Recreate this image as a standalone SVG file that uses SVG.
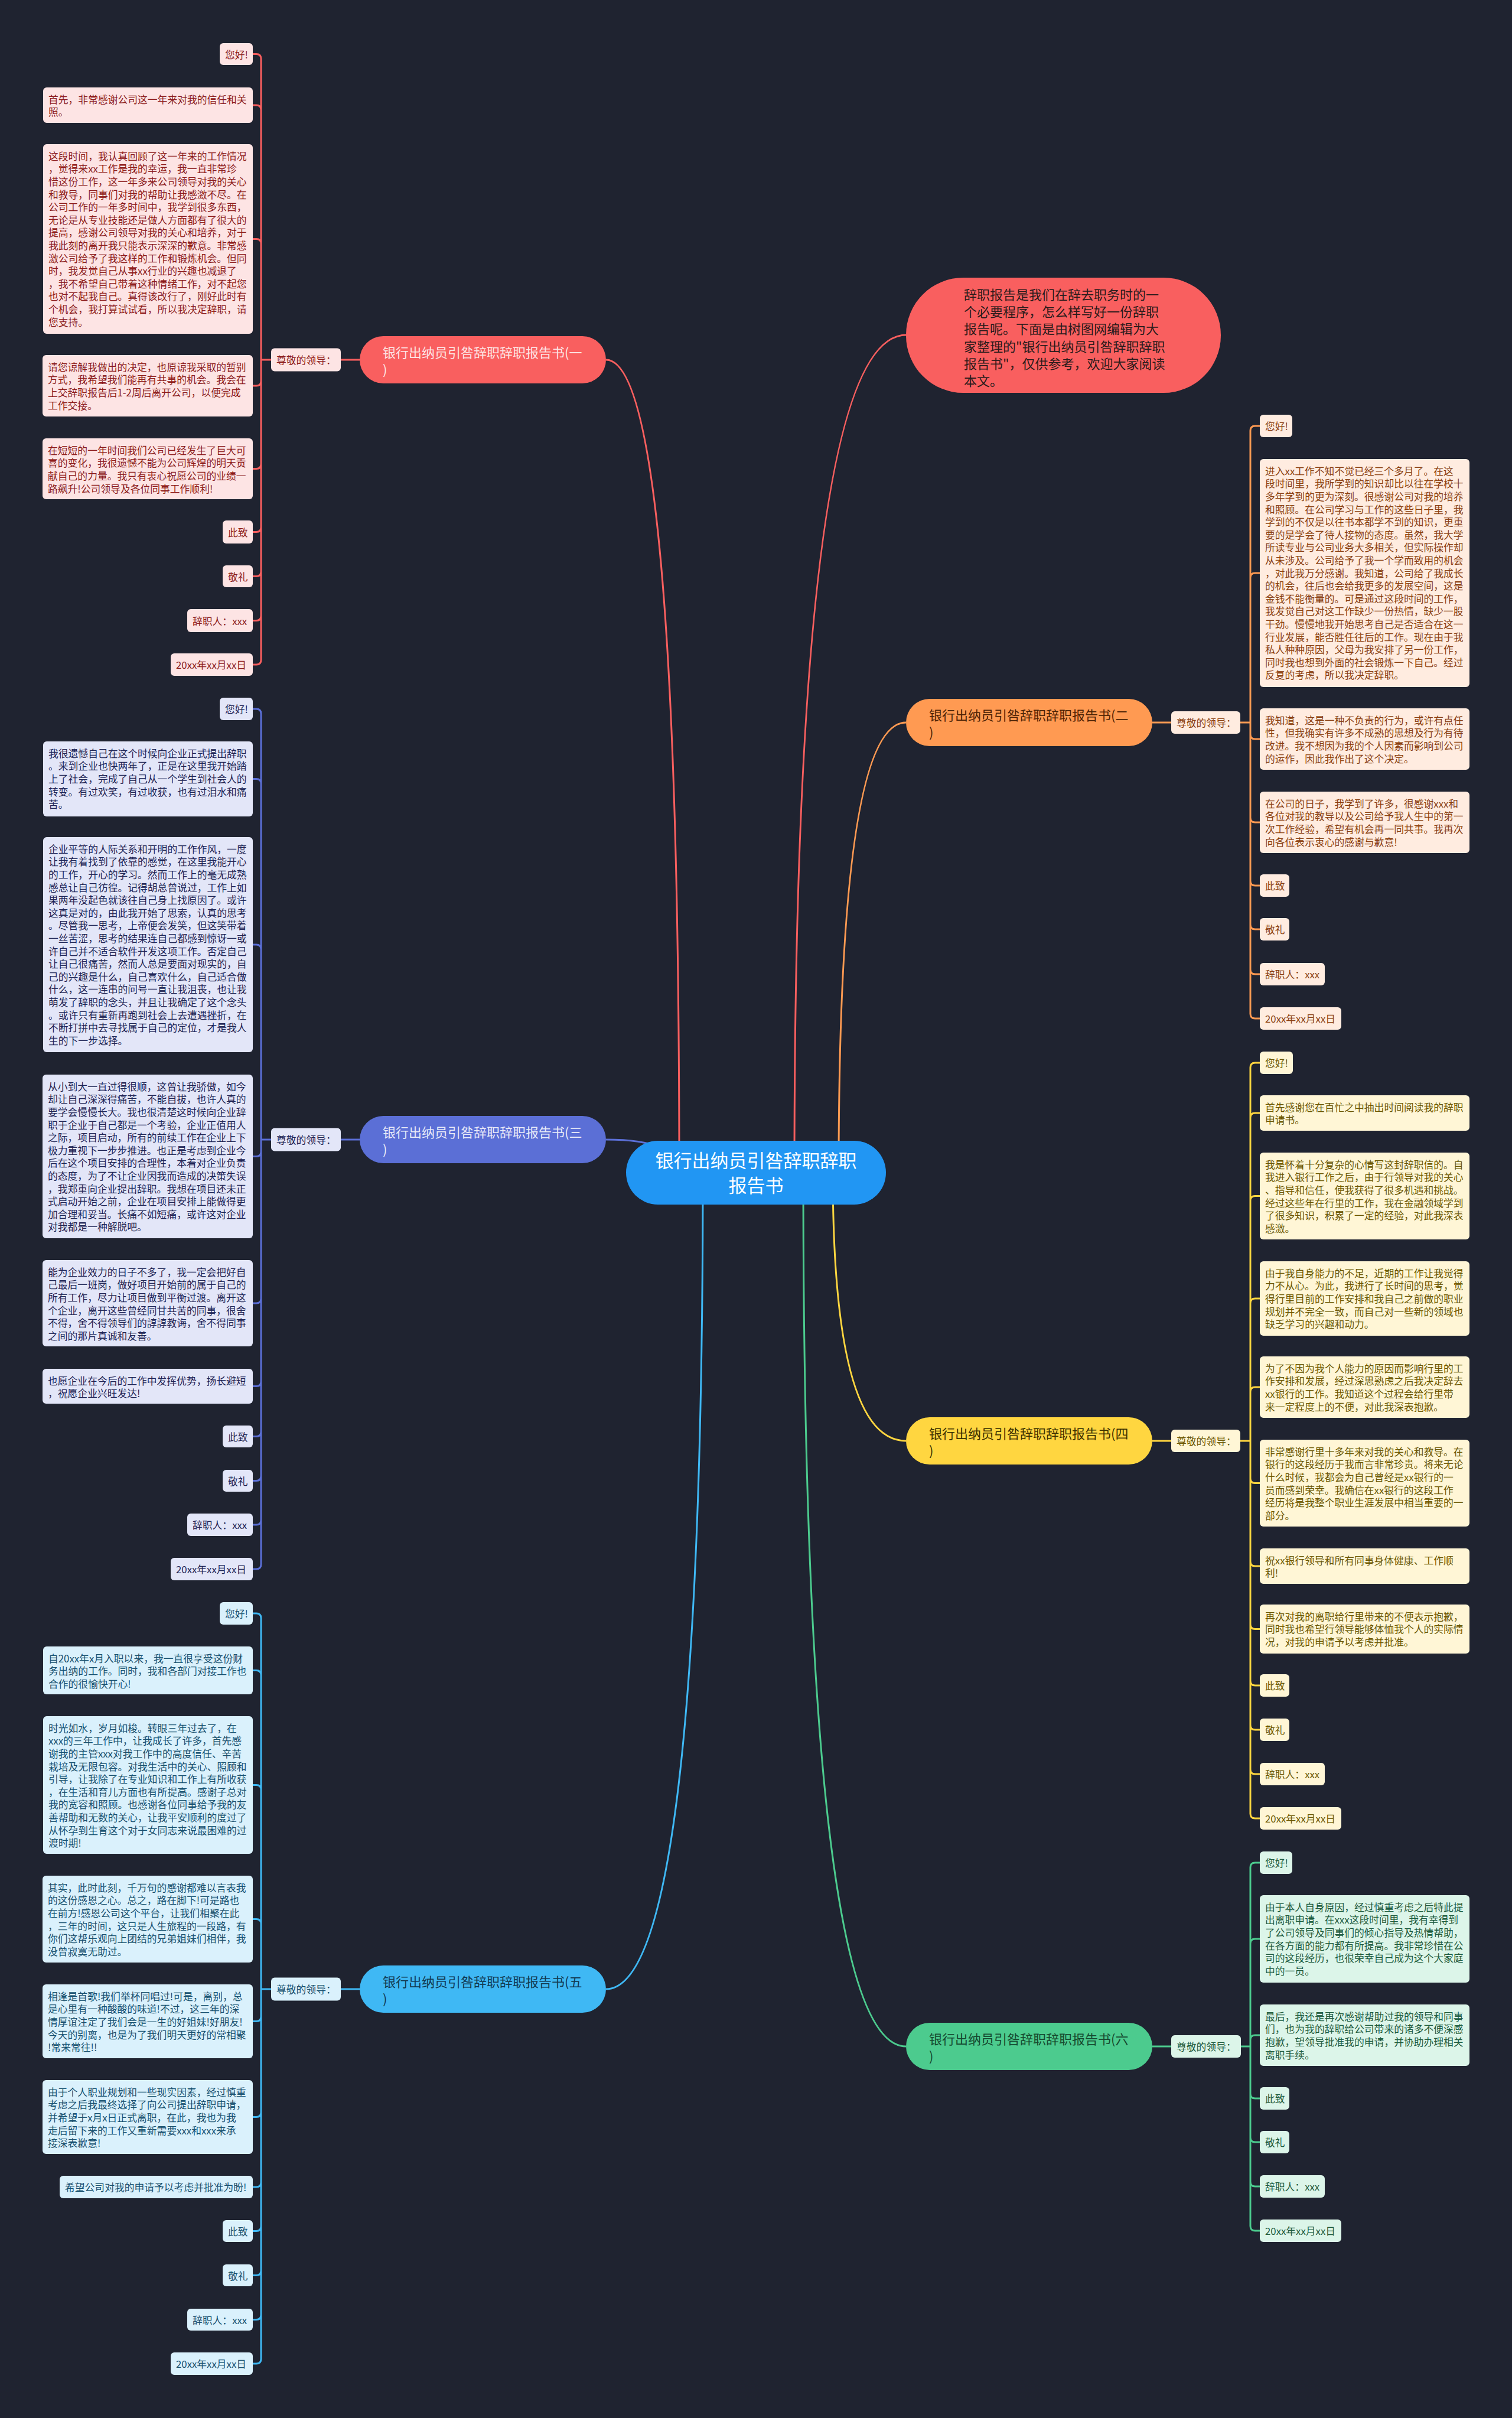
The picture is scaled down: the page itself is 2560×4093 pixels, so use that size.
<svg xmlns="http://www.w3.org/2000/svg" width="2560" height="4093" viewBox="0 0 2560 4093">
<style>
text{font-family:"Noto Sans CJK SC","Noto Sans",sans-serif;dominant-baseline:central}
.lt{font-size:16.8px}
.nt{font-size:22px}
.rt{font-size:31px;fill:#ffffff;text-anchor:middle}
.lr{rx:6px;ry:6px}
.C1{fill:none;stroke:#f95f5f;stroke-width:3}
.C2{fill:none;stroke:#ff9a52;stroke-width:3}
.C3{fill:none;stroke:#5b6fd6;stroke-width:3}
.C4{fill:none;stroke:#ffd640;stroke-width:3}
.C5{fill:none;stroke:#3fb8f4;stroke-width:3}
.C6{fill:none;stroke:#4ccb8e;stroke-width:3}
.L1 rect{fill:#fde4e4}.L1 text{fill:#8c1b1b}
.L2 rect{fill:#ffece0}.L2 text{fill:#8a3f10}
.L3 rect{fill:#e3e6f8}.L3 text{fill:#1e2454}
.L4 rect{fill:#fff6d6}.L4 text{fill:#6b5600}
.L5 rect{fill:#daf1fc}.L5 text{fill:#17506f}
.L6 rect{fill:#dcf5e9}.L6 text{fill:#1c5a3c}
.N1 rect{fill:#f95f5f}.N1 text{fill:#fde4e4}
.N2 rect{fill:#ff9a52}.N2 text{fill:#4d2305}
.N3 rect{fill:#5b6fd6}.N3 text{fill:#e8eaf8}
.N4 rect{fill:#ffd640}.N4 text{fill:#3d3200}
.N5 rect{fill:#3fb8f4}.N5 text{fill:#123a52}
.N6 rect{fill:#4ccb8e}.N6 text{fill:#154a30}
</style>
<rect x="0" y="0" width="2560" height="4093" fill="#1f2330"/>

<g id="connectors">
<path class="C1" d="M1345 1983Q1345 567 1534 567"/>
<path class="C1" d="M1150 1983Q1150 609 1026 609"/>
<path class="C2" d="M1420 1983Q1420 1223 1534 1223"/>
<path class="C3" d="M1150 1983Q1150 1929 1026 1929"/>
<path class="C4" d="M1410 1983Q1410 2439 1534 2439"/>
<path class="C5" d="M1190 1983Q1190 3367 1026 3367"/>
<path class="C6" d="M1360 1983Q1360 3464 1534 3464"/>

<path class="C1" d="M609 609H577M459 609H442M442 609V99.5Q442 91.5 434 91.5H428M442 609V186Q442 178 434 178H428M442 609V412.5Q442 404.5 434 404.5H428M442 609V645Q442 653 434 653H428M442 609V785.5Q442 793.5 434 793.5H428M442 609V892.5Q442 900.5 434 900.5H428M442 609V967.5Q442 975.5 434 975.5H428M442 609V1042.5Q442 1050.5 434 1050.5H428M442 609V1117Q442 1125 434 1125H428"/>
<path class="C3" d="M609 1929H577M459 1929H442M442 1929V1208Q442 1200 434 1200H428M442 1929V1326.5Q442 1318.5 434 1318.5H428M442 1929V1607Q442 1599 434 1599H428M442 1929V1949.5Q442 1957.5 434 1957.5H428M442 1929V2198Q442 2206 434 2206H428M442 1929V2338.5Q442 2346.5 434 2346.5H428M442 1929V2423.5Q442 2431.5 434 2431.5H428M442 1929V2498.5Q442 2506.5 434 2506.5H428M442 1929V2573Q442 2581 434 2581H428M442 1929V2648Q442 2656 434 2656H428"/>
<path class="C5" d="M609 3367H577M459 3367H442M442 3367V2739Q442 2731 434 2731H428M442 3367V2835.5Q442 2827.5 434 2827.5H428M442 3367V3029.5Q442 3021.5 434 3021.5H428M442 3367V3256.5Q442 3248.5 434 3248.5H428M442 3367V3413.5Q442 3421.5 434 3421.5H428M442 3367V3575.5Q442 3583.5 434 3583.5H428M442 3367V3694Q442 3702 434 3702H428M442 3367V3768.5Q442 3776.5 434 3776.5H428M442 3367V3843.5Q442 3851.5 434 3851.5H428M442 3367V3918.5Q442 3926.5 434 3926.5H428M442 3367V3993Q442 4001 434 4001H428"/>
<path class="C2" d="M1951 1223H1983M2100 1223H2117M2117 1223V729Q2117 721 2125 721H2133M2117 1223V978Q2117 970 2125 970H2133M2117 1223V1243Q2117 1251 2125 1251H2133M2117 1223V1384Q2117 1392 2125 1392H2133M2117 1223V1491Q2117 1499 2125 1499H2133M2117 1223V1565Q2117 1573 2125 1573H2133M2117 1223V1641Q2117 1649 2125 1649H2133M2117 1223V1716Q2117 1724 2125 1724H2133"/>
<path class="C4" d="M1951 2439H1983M2100 2439H2117M2117 2439V1807Q2117 1799 2125 1799H2133M2117 2439V1892Q2117 1884 2125 1884H2133M2117 2439V2032.5Q2117 2024.5 2125 2024.5H2133M2117 2439V2206Q2117 2198 2125 2198H2133M2117 2439V2356Q2117 2348 2125 2348H2133M2117 2439V2502.5Q2117 2510.5 2125 2510.5H2133M2117 2439V2643Q2117 2651 2125 2651H2133M2117 2439V2749.5Q2117 2757.5 2125 2757.5H2133M2117 2439V2845Q2117 2853 2125 2853H2133M2117 2439V2920Q2117 2928 2125 2928H2133M2117 2439V2995Q2117 3003 2125 3003H2133M2117 2439V3070Q2117 3078 2125 3078H2133"/>
<path class="C6" d="M1951 3464H1983M2100 3464H2117M2117 3464V3161Q2117 3153 2125 3153H2133M2117 3464V3290Q2117 3282 2125 3282H2133M2117 3464V3453Q2117 3445 2125 3445H2133M2117 3464V3544Q2117 3552 2125 3552H2133M2117 3464V3618Q2117 3626 2125 3626H2133M2117 3464V3693Q2117 3701 2125 3701H2133M2117 3464V3768Q2117 3776 2125 3776H2133"/>
</g>

<g id="root">
<rect x="1060" y="1931" width="440" height="108" rx="54" fill="#2196f3"/>
<text class="rt" x="1280" y="1962"><tspan x="1280">银行出纳员引咎辞职辞职</tspan><tspan x="1280" dy="42">报告书</tspan></text>
</g>

<g id="intro">
<rect x="1534" y="470" width="533" height="195" rx="97" fill="#f95f5f"/>
<text class="nt" fill="#2b1b1b" x="1632" y="497"><tspan x="1632">辞职报告是我们在辞去职务时的一</tspan><tspan x="1632" dy="29.2">个必要程序，怎么样写好一份辞职</tspan><tspan x="1632" dy="29.2">报告呢。下面是由树图网编辑为大</tspan><tspan x="1632" dy="29.2">家整理的"银行出纳员引咎辞职辞职</tspan><tspan x="1632" dy="29.2">报告书"，仅供参考，欢迎大家阅读</tspan><tspan x="1632" dy="29.2">本文。</tspan></text>
</g>

<!-- Branch 1 -->
<g id="b1" class="N1"><rect x="609" y="569" width="417" height="80" rx="40"/><text class="nt" x="648" y="595"><tspan x="648">银行出纳员引咎辞职辞职报告书(一</tspan><tspan x="648" dy="29">)</tspan></text></g>
<g id="b1-label" class="L1"><rect class="lr" x="459" y="589.5" width="118" height="39"/><text class="lt" x="468" y="609">尊敬的领导：</text></g>
<g id="b1-1" class="L1"><rect class="lr" x="372" y="73" width="56" height="37"/><text class="lt" x="381" y="91.5">您好!</text></g>
<g id="b1-2" class="L1"><rect class="lr" x="73" y="148" width="355" height="60"/><text class="lt" x="82" y="167.8"><tspan x="82">首先，非常感谢公司这一年来对我的信任和关</tspan><tspan x="82" dy="21.6">照。</tspan></text></g>
<g id="b1-3" class="L1"><rect class="lr" x="73" y="244" width="355" height="321"/><text class="lt" x="82" y="263.8"><tspan x="82">这段时间，我认真回顾了这一年来的工作情况</tspan><tspan x="82" dy="21.6">，觉得来xx工作是我的幸运，我一直非常珍</tspan><tspan x="82" dy="21.6">惜这份工作，这一年多来公司领导对我的关心</tspan><tspan x="82" dy="21.6">和教导，同事们对我的帮助让我感激不尽。在</tspan><tspan x="82" dy="21.6">公司工作的一年多时间中，我学到很多东西，</tspan><tspan x="82" dy="21.6">无论是从专业技能还是做人方面都有了很大的</tspan><tspan x="82" dy="21.6">提高，感谢公司领导对我的关心和培养，对于</tspan><tspan x="82" dy="21.6">我此刻的离开我只能表示深深的歉意。非常感</tspan><tspan x="82" dy="21.6">激公司给予了我这样的工作和锻炼机会。但同</tspan><tspan x="82" dy="21.6">时，我发觉自己从事xx行业的兴趣也减退了</tspan><tspan x="82" dy="21.6">，我不希望自己带着这种情绪工作，对不起您</tspan><tspan x="82" dy="21.6">也对不起我自己。真得该改行了，刚好此时有</tspan><tspan x="82" dy="21.6">个机会，我打算试试看，所以我决定辞职，请</tspan><tspan x="82" dy="21.6">您支持。</tspan></text></g>
<g id="b1-4" class="L1"><rect class="lr" x="72" y="601" width="356" height="104"/><text class="lt" x="81" y="620.8"><tspan x="81">请您谅解我做出的决定，也原谅我采取的暂别</tspan><tspan x="81" dy="21.6">方式，我希望我们能再有共事的机会。我会在</tspan><tspan x="81" dy="21.6">上交辞职报告后1-2周后离开公司，以便完成</tspan><tspan x="81" dy="21.6">工作交接。</tspan></text></g>
<g id="b1-5" class="L1"><rect class="lr" x="72" y="742" width="356" height="103"/><text class="lt" x="81" y="761.8"><tspan x="81">在短短的一年时间我们公司已经发生了巨大可</tspan><tspan x="81" dy="21.6">喜的变化，我很遗憾不能为公司辉煌的明天贡</tspan><tspan x="81" dy="21.6">献自己的力量。我只有衷心祝愿公司的业绩一</tspan><tspan x="81" dy="21.6">路飙升!公司领导及各位同事工作顺利!</tspan></text></g>
<g id="b1-6" class="L1"><rect class="lr" x="377" y="881" width="51" height="39"/><text class="lt" x="386" y="900.5">此致</text></g>
<g id="b1-7" class="L1"><rect class="lr" x="377" y="957" width="51" height="37"/><text class="lt" x="386" y="975.5">敬礼</text></g>
<g id="b1-8" class="L1"><rect class="lr" x="317" y="1031" width="111" height="39"/><text class="lt" x="326" y="1050.5">辞职人：xxx</text></g>
<g id="b1-9" class="L1"><rect class="lr" x="289" y="1106" width="139" height="38"/><text class="lt" x="298" y="1125">20xx年xx月xx日</text></g>

<!-- Branch 3 -->
<g id="b3" class="N3"><rect x="609" y="1889" width="417" height="80" rx="40"/><text class="nt" x="648" y="1915"><tspan x="648">银行出纳员引咎辞职辞职报告书(三</tspan><tspan x="648" dy="29">)</tspan></text></g>
<g id="b3-label" class="L3"><rect class="lr" x="459" y="1909.5" width="118" height="39"/><text class="lt" x="468" y="1929">尊敬的领导：</text></g>
<g id="b3-1" class="L3"><rect class="lr" x="372" y="1181" width="56" height="38"/><text class="lt" x="381" y="1200">您好!</text></g>
<g id="b3-2" class="L3"><rect class="lr" x="73" y="1255" width="355" height="127"/><text class="lt" x="82" y="1274.8"><tspan x="82">我很遗憾自己在这个时候向企业正式提出辞职</tspan><tspan x="82" dy="21.6">。来到企业也快两年了，正是在这里我开始踏</tspan><tspan x="82" dy="21.6">上了社会，完成了自己从一个学生到社会人的</tspan><tspan x="82" dy="21.6">转变。有过欢笑，有过收获，也有过泪水和痛</tspan><tspan x="82" dy="21.6">苦。</tspan></text></g>
<g id="b3-3" class="L3"><rect class="lr" x="73" y="1417" width="355" height="364"/><text class="lt" x="82" y="1436.8"><tspan x="82">企业平等的人际关系和开明的工作作风，一度</tspan><tspan x="82" dy="21.6">让我有着找到了依靠的感觉，在这里我能开心</tspan><tspan x="82" dy="21.6">的工作，开心的学习。然而工作上的毫无成熟</tspan><tspan x="82" dy="21.6">感总让自己彷徨。记得胡总曾说过，工作上如</tspan><tspan x="82" dy="21.6">果两年没起色就该往自己身上找原因了。或许</tspan><tspan x="82" dy="21.6">这真是对的，由此我开始了思索，认真的思考</tspan><tspan x="82" dy="21.6">。尽管我一思考，上帝便会发笑，但这笑带着</tspan><tspan x="82" dy="21.6">一丝苦涩，思考的结果连自己都感到惊讶一或</tspan><tspan x="82" dy="21.6">许自己并不适合软件开发这项工作。否定自己</tspan><tspan x="82" dy="21.6">让自己很痛苦，然而人总是要面对现实的，自</tspan><tspan x="82" dy="21.6">己的兴趣是什么，自己喜欢什么，自己适合做</tspan><tspan x="82" dy="21.6">什么，这一连串的问号一直让我沮丧，也让我</tspan><tspan x="82" dy="21.6">萌发了辞职的念头，并且让我确定了这个念头</tspan><tspan x="82" dy="21.6">。或许只有重新再跑到社会上去遭遇挫折，在</tspan><tspan x="82" dy="21.6">不断打拼中去寻找属于自己的定位，才是我人</tspan><tspan x="82" dy="21.6">生的下一步选择。</tspan></text></g>
<g id="b3-4" class="L3"><rect class="lr" x="72" y="1819" width="356" height="277"/><text class="lt" x="81" y="1838.8"><tspan x="81">从小到大一直过得很顺，这曾让我骄傲，如今</tspan><tspan x="81" dy="21.6">却让自己深深得痛苦，不能自拔，也许人真的</tspan><tspan x="81" dy="21.6">要学会慢慢长大。我也很清楚这时候向企业辞</tspan><tspan x="81" dy="21.6">职于企业于自己都是一个考验，企业正值用人</tspan><tspan x="81" dy="21.6">之际，项目启动，所有的前续工作在企业上下</tspan><tspan x="81" dy="21.6">极力重视下一步步推进。也正是考虑到企业今</tspan><tspan x="81" dy="21.6">后在这个项目安排的合理性，本着对企业负责</tspan><tspan x="81" dy="21.6">的态度，为了不让企业因我而造成的决策失误</tspan><tspan x="81" dy="21.6">，我郑重向企业提出辞职。我想在项目还未正</tspan><tspan x="81" dy="21.6">式启动开始之前，企业在项目安排上能做得更</tspan><tspan x="81" dy="21.6">加合理和妥当。长痛不如短痛，或许这对企业</tspan><tspan x="81" dy="21.6">对我都是一种解脱吧。</tspan></text></g>
<g id="b3-5" class="L3"><rect class="lr" x="72" y="2133" width="356" height="146"/><text class="lt" x="81" y="2152.8"><tspan x="81">能为企业效力的日子不多了，我一定会把好自</tspan><tspan x="81" dy="21.6">己最后一班岗，做好项目开始前的属于自己的</tspan><tspan x="81" dy="21.6">所有工作，尽力让项目做到平衡过渡。离开这</tspan><tspan x="81" dy="21.6">个企业，离开这些曾经同甘共苦的同事，很舍</tspan><tspan x="81" dy="21.6">不得，舍不得领导们的諄諄教诲，舍不得同事</tspan><tspan x="81" dy="21.6">之间的那片真诚和友善。</tspan></text></g>
<g id="b3-6" class="L3"><rect class="lr" x="72" y="2317" width="356" height="59"/><text class="lt" x="81" y="2336.8"><tspan x="81">也愿企业在今后的工作中发挥优势，扬长避短</tspan><tspan x="81" dy="21.6">，祝愿企业兴旺发达!</tspan></text></g>
<g id="b3-7" class="L3"><rect class="lr" x="377" y="2413" width="51" height="37"/><text class="lt" x="386" y="2431.5">此致</text></g>
<g id="b3-8" class="L3"><rect class="lr" x="377" y="2488" width="51" height="37"/><text class="lt" x="386" y="2506.5">敬礼</text></g>
<g id="b3-9" class="L3"><rect class="lr" x="317" y="2562" width="111" height="38"/><text class="lt" x="326" y="2581">辞职人：xxx</text></g>
<g id="b3-10" class="L3"><rect class="lr" x="289" y="2637" width="139" height="38"/><text class="lt" x="298" y="2656">20xx年xx月xx日</text></g>

<!-- Branch 5 -->
<g id="b5" class="N5"><rect x="609" y="3327" width="417" height="80" rx="40"/><text class="nt" x="648" y="3353"><tspan x="648">银行出纳员引咎辞职辞职报告书(五</tspan><tspan x="648" dy="29">)</tspan></text></g>
<g id="b5-label" class="L5"><rect class="lr" x="459" y="3347.5" width="118" height="39"/><text class="lt" x="468" y="3367">尊敬的领导：</text></g>
<g id="b5-1" class="L5"><rect class="lr" x="372" y="2712" width="56" height="38"/><text class="lt" x="381" y="2731">您好!</text></g>
<g id="b5-2" class="L5"><rect class="lr" x="73" y="2787" width="355" height="81"/><text class="lt" x="82" y="2806.8"><tspan x="82">自20xx年x月入职以来，我一直很享受这份财</tspan><tspan x="82" dy="21.6">务出纳的工作。同时，我和各部门对接工作也</tspan><tspan x="82" dy="21.6">合作的很愉快开心!</tspan></text></g>
<g id="b5-3" class="L5"><rect class="lr" x="73" y="2905" width="355" height="233"/><text class="lt" x="82" y="2924.8"><tspan x="82">时光如水，岁月如梭。转眼三年过去了，在</tspan><tspan x="82" dy="21.6">xxx的三年工作中，让我成长了许多，首先感</tspan><tspan x="82" dy="21.6">谢我的主管xxx对我工作中的高度信任、辛苦</tspan><tspan x="82" dy="21.6">栽培及无限包容。对我生活中的关心、照顾和</tspan><tspan x="82" dy="21.6">引导，让我除了在专业知识和工作上有所收获</tspan><tspan x="82" dy="21.6">，在生活和育儿方面也有所提高。感谢子总对</tspan><tspan x="82" dy="21.6">我的宽容和照顾。也感谢各位同事给予我的友</tspan><tspan x="82" dy="21.6">善帮助和无数的关心，让我平安顺利的度过了</tspan><tspan x="82" dy="21.6">从怀孕到生育这个对于女同志来说最困难的过</tspan><tspan x="82" dy="21.6">渡时期!</tspan></text></g>
<g id="b5-4" class="L5"><rect class="lr" x="72" y="3175" width="356" height="147"/><text class="lt" x="81" y="3194.8"><tspan x="81">其实，此时此刻，千万句的感谢都难以言表我</tspan><tspan x="81" dy="21.6">的这份感恩之心。总之，路在脚下!可是路也</tspan><tspan x="81" dy="21.6">在前方!感恩公司这个平台，让我们相聚在此</tspan><tspan x="81" dy="21.6">，三年的时间，这只是人生旅程的一段路，有</tspan><tspan x="81" dy="21.6">你们这帮乐观向上团结的兄弟姐妹们相伴，我</tspan><tspan x="81" dy="21.6">没曾寂寞无助过。</tspan></text></g>
<g id="b5-5" class="L5"><rect class="lr" x="72" y="3359" width="356" height="125"/><text class="lt" x="81" y="3378.8"><tspan x="81">相逢是首歌!我们举杯同唱过!可是，离别，总</tspan><tspan x="81" dy="21.6">是心里有一种酸酸的味道!不过，这三年的深</tspan><tspan x="81" dy="21.6">情厚谊注定了我们会是一生的好姐妹!好朋友!</tspan><tspan x="81" dy="21.6">今天的别离，也是为了我们明天更好的常相聚</tspan><tspan x="81" dy="21.6">!常来常往!!</tspan></text></g>
<g id="b5-6" class="L5"><rect class="lr" x="72" y="3521" width="356" height="125"/><text class="lt" x="81" y="3540.8"><tspan x="81">由于个人职业规划和一些现实因素，经过慎重</tspan><tspan x="81" dy="21.6">考虑之后我最终选择了向公司提出辞职申请，</tspan><tspan x="81" dy="21.6">并希望于x月x日正式离职，在此，我也为我</tspan><tspan x="81" dy="21.6">走后留下来的工作又重新需要xxx和xxx来承</tspan><tspan x="81" dy="21.6">接深表歉意!</tspan></text></g>
<g id="b5-7" class="L5"><rect class="lr" x="101" y="3683" width="327" height="38"/><text class="lt" x="110" y="3702">希望公司对我的申请予以考虑并批准为盼!</text></g>
<g id="b5-8" class="L5"><rect class="lr" x="377" y="3758" width="51" height="37"/><text class="lt" x="386" y="3776.5">此致</text></g>
<g id="b5-9" class="L5"><rect class="lr" x="377" y="3833" width="51" height="37"/><text class="lt" x="386" y="3851.5">敬礼</text></g>
<g id="b5-10" class="L5"><rect class="lr" x="317" y="3908" width="111" height="37"/><text class="lt" x="326" y="3926.5">辞职人：xxx</text></g>
<g id="b5-11" class="L5"><rect class="lr" x="289" y="3982" width="139" height="38"/><text class="lt" x="298" y="4001">20xx年xx月xx日</text></g>

<!-- Branch 2 -->
<g id="b2" class="N2"><rect x="1534" y="1183" width="417" height="80" rx="40"/><text class="nt" x="1573" y="1209"><tspan x="1573">银行出纳员引咎辞职辞职报告书(二</tspan><tspan x="1573" dy="29">)</tspan></text></g>
<g id="b2-label" class="L2"><rect class="lr" x="1983" y="1204" width="117" height="38"/><text class="lt" x="1992" y="1223">尊敬的领导：</text></g>
<g id="b2-1" class="L2"><rect class="lr" x="2133" y="702" width="55" height="38"/><text class="lt" x="2142" y="721">您好!</text></g>
<g id="b2-2" class="L2"><rect class="lr" x="2133" y="777" width="355" height="386"/><text class="lt" x="2142" y="796.8"><tspan x="2142">进入xx工作不知不觉已经三个多月了。在这</tspan><tspan x="2142" dy="21.6">段时间里，我所学到的知识却比以往在学校十</tspan><tspan x="2142" dy="21.6">多年学到的更为深刻。很感谢公司对我的培养</tspan><tspan x="2142" dy="21.6">和照顾。在公司学习与工作的这些日子里，我</tspan><tspan x="2142" dy="21.6">学到的不仅是以往书本都学不到的知识，更重</tspan><tspan x="2142" dy="21.6">要的是学会了待人接物的态度。虽然，我大学</tspan><tspan x="2142" dy="21.6">所读专业与公司业务大多相关，但实际操作却</tspan><tspan x="2142" dy="21.6">从未涉及。公司给予了我一个学而致用的机会</tspan><tspan x="2142" dy="21.6">，对此我万分感谢。我知道，公司给了我成长</tspan><tspan x="2142" dy="21.6">的机会，往后也会给我更多的发展空间，这是</tspan><tspan x="2142" dy="21.6">金钱不能衡量的。可是通过这段时间的工作，</tspan><tspan x="2142" dy="21.6">我发觉自己对这工作缺少一份热情，缺少一股</tspan><tspan x="2142" dy="21.6">干劲。慢慢地我开始思考自己是否适合在这一</tspan><tspan x="2142" dy="21.6">行业发展，能否胜任往后的工作。现在由于我</tspan><tspan x="2142" dy="21.6">私人种种原因，父母为我安排了另一份工作，</tspan><tspan x="2142" dy="21.6">同时我也想到外面的社会锻炼一下自己。经过</tspan><tspan x="2142" dy="21.6">反复的考虑，所以我决定辞职。</tspan></text></g>
<g id="b2-3" class="L2"><rect class="lr" x="2133" y="1199" width="355" height="104"/><text class="lt" x="2142" y="1218.8"><tspan x="2142">我知道，这是一种不负责的行为，或许有点任</tspan><tspan x="2142" dy="21.6">性，但我确实有许多不成熟的思想及行为有待</tspan><tspan x="2142" dy="21.6">改进。我不想因为我的个人因素而影响到公司</tspan><tspan x="2142" dy="21.6">的运作，因此我作出了这个决定。</tspan></text></g>
<g id="b2-4" class="L2"><rect class="lr" x="2133" y="1340" width="355" height="104"/><text class="lt" x="2142" y="1359.8"><tspan x="2142">在公司的日子，我学到了许多，很感谢xxx和</tspan><tspan x="2142" dy="21.6">各位对我的教导以及公司给予我人生中的第一</tspan><tspan x="2142" dy="21.6">次工作经验，希望有机会再一同共事。我再次</tspan><tspan x="2142" dy="21.6">向各位表示衷心的感谢与歉意!</tspan></text></g>
<g id="b2-5" class="L2"><rect class="lr" x="2133" y="1480" width="50" height="38"/><text class="lt" x="2142" y="1499">此致</text></g>
<g id="b2-6" class="L2"><rect class="lr" x="2133" y="1554" width="50" height="38"/><text class="lt" x="2142" y="1573">敬礼</text></g>
<g id="b2-7" class="L2"><rect class="lr" x="2133" y="1630" width="110" height="38"/><text class="lt" x="2142" y="1649">辞职人：xxx</text></g>
<g id="b2-8" class="L2"><rect class="lr" x="2133" y="1705" width="138" height="38"/><text class="lt" x="2142" y="1724">20xx年xx月xx日</text></g>

<!-- Branch 4 -->
<g id="b4" class="N4"><rect x="1534" y="2399" width="417" height="80" rx="40"/><text class="nt" x="1573" y="2425"><tspan x="1573">银行出纳员引咎辞职辞职报告书(四</tspan><tspan x="1573" dy="29">)</tspan></text></g>
<g id="b4-label" class="L4"><rect class="lr" x="1983" y="2420" width="117" height="38"/><text class="lt" x="1992" y="2439">尊敬的领导：</text></g>
<g id="b4-1" class="L4"><rect class="lr" x="2133" y="1780" width="56" height="38"/><text class="lt" x="2142" y="1799">您好!</text></g>
<g id="b4-2" class="L4"><rect class="lr" x="2133" y="1854" width="355" height="60"/><text class="lt" x="2142" y="1873.8"><tspan x="2142">首先感谢您在百忙之中抽出时间阅读我的辞职</tspan><tspan x="2142" dy="21.6">申请书。</tspan></text></g>
<g id="b4-3" class="L4"><rect class="lr" x="2133" y="1951" width="355" height="147"/><text class="lt" x="2142" y="1970.8"><tspan x="2142">我是怀着十分复杂的心情写这封辞职信的。自</tspan><tspan x="2142" dy="21.6">我进入银行工作之后，由于行领导对我的关心</tspan><tspan x="2142" dy="21.6">、指导和信任，使我获得了很多机遇和挑战。</tspan><tspan x="2142" dy="21.6">经过这些年在行里的工作，我在金融领域学到</tspan><tspan x="2142" dy="21.6">了很多知识，积累了一定的经验，对此我深表</tspan><tspan x="2142" dy="21.6">感激。</tspan></text></g>
<g id="b4-4" class="L4"><rect class="lr" x="2133" y="2135" width="355" height="126"/><text class="lt" x="2142" y="2154.8"><tspan x="2142">由于我自身能力的不足，近期的工作让我觉得</tspan><tspan x="2142" dy="21.6">力不从心。为此，我进行了长时间的思考，觉</tspan><tspan x="2142" dy="21.6">得行里目前的工作安排和我自己之前做的职业</tspan><tspan x="2142" dy="21.6">规划并不完全一致，而自己对一些新的领域也</tspan><tspan x="2142" dy="21.6">缺乏学习的兴趣和动力。</tspan></text></g>
<g id="b4-5" class="L4"><rect class="lr" x="2133" y="2296" width="355" height="104"/><text class="lt" x="2142" y="2315.8"><tspan x="2142">为了不因为我个人能力的原因而影响行里的工</tspan><tspan x="2142" dy="21.6">作安排和发展，经过深思熟虑之后我决定辞去</tspan><tspan x="2142" dy="21.6">xx银行的工作。我知道这个过程会给行里带</tspan><tspan x="2142" dy="21.6">来一定程度上的不便，对此我深表抱歉。</tspan></text></g>
<g id="b4-6" class="L4"><rect class="lr" x="2133" y="2437" width="355" height="147"/><text class="lt" x="2142" y="2456.8"><tspan x="2142">非常感谢行里十多年来对我的关心和教导。在</tspan><tspan x="2142" dy="21.6">银行的这段经历于我而言非常珍贵。将来无论</tspan><tspan x="2142" dy="21.6">什么时候，我都会为自己曾经是xx银行的一</tspan><tspan x="2142" dy="21.6">员而感到荣幸。我确信在xx银行的这段工作</tspan><tspan x="2142" dy="21.6">经历将是我整个职业生涯发展中相当重要的一</tspan><tspan x="2142" dy="21.6">部分。</tspan></text></g>
<g id="b4-7" class="L4"><rect class="lr" x="2133" y="2621" width="355" height="60"/><text class="lt" x="2142" y="2640.8"><tspan x="2142">祝xx银行领导和所有同事身体健康、工作顺</tspan><tspan x="2142" dy="21.6">利!</tspan></text></g>
<g id="b4-8" class="L4"><rect class="lr" x="2133" y="2716" width="355" height="83"/><text class="lt" x="2142" y="2735.8"><tspan x="2142">再次对我的离职给行里带来的不便表示抱歉，</tspan><tspan x="2142" dy="21.6">同时我也希望行领导能够体恤我个人的实际情</tspan><tspan x="2142" dy="21.6">况，对我的申请予以考虑并批准。</tspan></text></g>
<g id="b4-9" class="L4"><rect class="lr" x="2133" y="2834" width="50" height="38"/><text class="lt" x="2142" y="2853">此致</text></g>
<g id="b4-10" class="L4"><rect class="lr" x="2133" y="2909" width="50" height="38"/><text class="lt" x="2142" y="2928">敬礼</text></g>
<g id="b4-11" class="L4"><rect class="lr" x="2133" y="2984" width="110" height="38"/><text class="lt" x="2142" y="3003">辞职人：xxx</text></g>
<g id="b4-12" class="L4"><rect class="lr" x="2133" y="3059" width="138" height="38"/><text class="lt" x="2142" y="3078">20xx年xx月xx日</text></g>

<!-- Branch 6 -->
<g id="b6" class="N6"><rect x="1534" y="3424" width="417" height="80" rx="40"/><text class="nt" x="1573" y="3450"><tspan x="1573">银行出纳员引咎辞职辞职报告书(六</tspan><tspan x="1573" dy="29">)</tspan></text></g>
<g id="b6-label" class="L6"><rect class="lr" x="1983" y="3445" width="118" height="38"/><text class="lt" x="1992" y="3464">尊敬的领导：</text></g>
<g id="b6-1" class="L6"><rect class="lr" x="2133" y="3134" width="55" height="38"/><text class="lt" x="2142" y="3153">您好!</text></g>
<g id="b6-2" class="L6"><rect class="lr" x="2133" y="3208" width="355" height="148"/><text class="lt" x="2142" y="3227.8"><tspan x="2142">由于本人自身原因，经过慎重考虑之后特此提</tspan><tspan x="2142" dy="21.6">出离职申请。在xxx这段时间里，我有幸得到</tspan><tspan x="2142" dy="21.6">了公司领导及同事们的倾心指导及热情帮助，</tspan><tspan x="2142" dy="21.6">在各方面的能力都有所提高。我非常珍惜在公</tspan><tspan x="2142" dy="21.6">司的这段经历，也很荣幸自己成为这个大家庭</tspan><tspan x="2142" dy="21.6">中的一员。</tspan></text></g>
<g id="b6-3" class="L6"><rect class="lr" x="2133" y="3393" width="355" height="104"/><text class="lt" x="2142" y="3412.8"><tspan x="2142">最后，我还是再次感谢帮助过我的领导和同事</tspan><tspan x="2142" dy="21.6">们，也为我的辞职给公司带来的诸多不便深感</tspan><tspan x="2142" dy="21.6">抱歉，望领导批准我的申请，并协助办理相关</tspan><tspan x="2142" dy="21.6">离职手续。</tspan></text></g>
<g id="b6-4" class="L6"><rect class="lr" x="2133" y="3533" width="50" height="38"/><text class="lt" x="2142" y="3552">此致</text></g>
<g id="b6-5" class="L6"><rect class="lr" x="2133" y="3607" width="50" height="38"/><text class="lt" x="2142" y="3626">敬礼</text></g>
<g id="b6-6" class="L6"><rect class="lr" x="2133" y="3682" width="110" height="38"/><text class="lt" x="2142" y="3701">辞职人：xxx</text></g>
<g id="b6-7" class="L6"><rect class="lr" x="2133" y="3757" width="138" height="38"/><text class="lt" x="2142" y="3776">20xx年xx月xx日</text></g>
</svg>
